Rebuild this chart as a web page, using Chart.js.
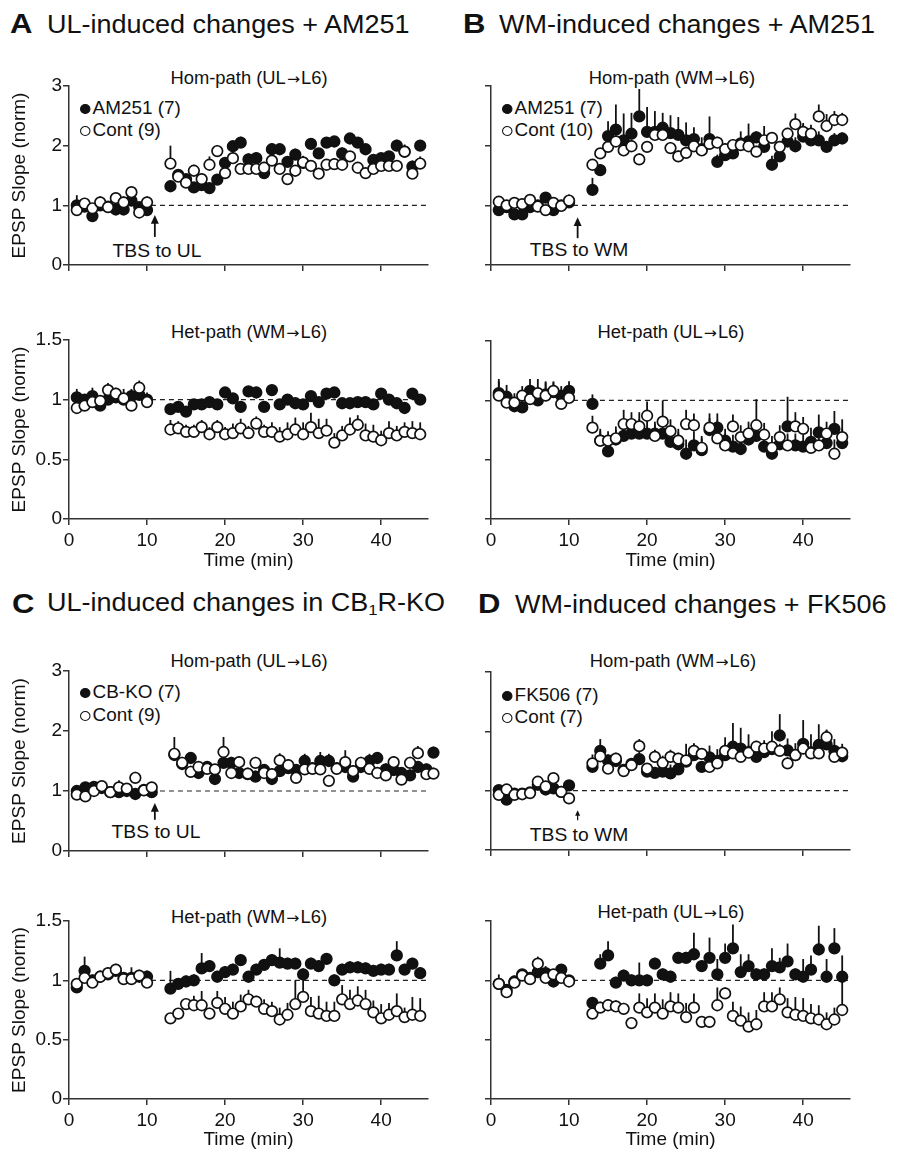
<!DOCTYPE html>
<html>
<head>
<meta charset="utf-8">
<script src="https://cdn.jsdelivr.net/npm/chart.js@4.4.1/dist/chart.umd.min.js"></script>
<style>
    body { margin: 0; background: #fff; width: 902px; height: 1151px; position: relative; overflow: hidden;
           font-family: 'Liberation Sans', Arial, sans-serif; color: #111; }
    canvas { position: absolute; }
    .t { position: absolute; white-space: nowrap; line-height: 1; }
    .ttl { font-size: 25px; transform: translateY(-50%) scaleX(1.08); transform-origin: left center; }
    .ltr { font-size: 27px; font-weight: bold; transform: translateY(-50%) scaleX(1.15); transform-origin: left center; }
    .sub { font-size: 17.5px; transform: translate(-50%, -50%) scaleX(1.05); }
    .arr { font-family: 'DejaVu Sans', sans-serif; font-size: 0.85em; margin: 0 1px; }
    .leg { font-size: 18px; transform: translateY(-50%) scaleX(1.05); transform-origin: left center; }
    .tbs { font-size: 18px; transform: translate(-50%, -50%) scaleX(1.07); }
    .dot { display: inline-block; width: 10px; height: 10px; border-radius: 50%; box-sizing: border-box;
           border: 1.7px solid #111; margin-right: 2px; vertical-align: 0px; }
    .dot.f { background: #111; }
    sub { font-size: 0.62em; vertical-align: -0.25em; }
</style>
</head>
<body>

<!-- panel titles -->
<div class="t ltr" style="left:10px;top:24px">A</div>
<div class="t ttl" style="left:47px;top:24px">UL-induced changes + AM251</div>
<div class="t ltr" style="left:463px;top:24px">B</div>
<div class="t ttl" style="left:499px;top:24px">WM-induced changes + AM251</div>
<div class="t ltr" style="left:12px;top:604px">C</div>
<div class="t ttl" style="left:47px;top:604px">UL-induced changes in CB<sub>1</sub>R-KO</div>
<div class="t ltr" style="left:478px;top:604px">D</div>
<div class="t ttl" style="left:515px;top:604px">WM-induced changes + FK506</div>

<!-- sub plot titles -->
<div class="t sub" style="left:249px;top:79px">Hom-path (UL<span class="arr">→</span>L6)</div>
<div class="t sub" style="left:249px;top:333px">Het-path (WM<span class="arr">→</span>L6)</div>
<div class="t sub" style="left:672px;top:79px">Hom-path (WM<span class="arr">→</span>L6)</div>
<div class="t sub" style="left:671px;top:333px">Het-path (UL<span class="arr">→</span>L6)</div>
<div class="t sub" style="left:249px;top:662px">Hom-path (UL<span class="arr">→</span>L6)</div>
<div class="t sub" style="left:249px;top:918px">Het-path (WM<span class="arr">→</span>L6)</div>
<div class="t sub" style="left:673px;top:662px">Hom-path (WM<span class="arr">→</span>L6)</div>
<div class="t sub" style="left:671px;top:913px">Het-path (UL<span class="arr">→</span>L6)</div>

<!-- legends -->
<div class="t leg" style="left:80px;top:108px"><span class="dot f"></span>AM251 (7)</div>
<div class="t leg" style="left:80px;top:130px"><span class="dot"></span>Cont (9)</div>
<div class="t leg" style="left:502px;top:108px"><span class="dot f"></span>AM251 (7)</div>
<div class="t leg" style="left:502px;top:130px"><span class="dot"></span>Cont (10)</div>
<div class="t leg" style="left:80px;top:692px"><span class="dot f"></span>CB-KO (7)</div>
<div class="t leg" style="left:80px;top:715px"><span class="dot"></span>Cont (9)</div>
<div class="t leg" style="left:502px;top:695px"><span class="dot f"></span>FK506 (7)</div>
<div class="t leg" style="left:502px;top:717px"><span class="dot"></span>Cont (7)</div>

<!-- stimulation labels -->
<div class="t tbs" style="left:157px;top:251px">TBS to UL</div>
<div class="t tbs" style="left:579px;top:250px">TBS to WM</div>
<div class="t tbs" style="left:156px;top:832px">TBS to UL</div>
<div class="t tbs" style="left:579px;top:835px">TBS to WM</div>

<canvas id="aTop" width="450" height="240" style="left:0;top:50px"></canvas>
<canvas id="aBot" width="450" height="285" style="left:0;top:290px"></canvas>
<canvas id="bTop" width="452" height="240" style="left:450px;top:50px"></canvas>
<canvas id="bBot" width="452" height="285" style="left:450px;top:290px"></canvas>
<canvas id="cTop" width="450" height="240" style="left:0;top:630px"></canvas>
<canvas id="cBot" width="450" height="281" style="left:0;top:870px"></canvas>
<canvas id="dTop" width="452" height="240" style="left:450px;top:630px"></canvas>
<canvas id="dBot" width="452" height="281" style="left:450px;top:870px"></canvas>

<script>
// ================= DATA =================
// time (min): 10 baseline samples, TBS, then 13..45
const times = [1, 2, 3, 4, 5, 6, 7, 8, 9, 10,
    13, 14, 15, 16, 17, 18, 19, 20, 21, 22, 23, 24, 25, 26, 27, 28, 29, 30, 31, 32,
    33, 34, 35, 36, 37, 38, 39, 40, 41, 42, 43, 44, 45];
// panel C hom-path is drawn slightly stretched in the figure
const cTopTimes = [1, 2.1, 3.2, 4.2, 5.3, 6.4, 7.4, 8.5, 9.6, 10.6,
    13.5, 14.5, 15.6, 16.6, 17.7, 18.7, 19.8, 20.8, 21.8, 22.9, 23.9, 25.0, 26.0, 27.0, 28.1, 29.1,
    30.2, 31.2, 32.2, 33.3, 34.3, 35.4, 36.4, 37.4, 38.5, 39.5, 40.6, 41.6, 42.6, 43.7, 44.7, 45.8, 46.7];

const homTicks = [0, 1, 2, 3];
const hetTicks = [0, 0.5, 1, 1.5];
const timeTicks = [0, 10, 20, 30, 40];

// A: UL-induced + AM251
const aHomDrug = [1.0, 0.98, 0.82, 1.0, 0.98, 0.93, 0.93, 1.08, 0.97, 0.92,
    1.32, 1.51, 1.44, 1.30, 1.34, 1.29, 1.43, 1.71, 1.99, 2.05, 1.77, 1.79, 1.54, 1.94, 1.94, 1.73,
    1.85, 1.71, 2.03, 1.87, 2.05, 2.07, 1.87, 2.12, 2.05, 1.94, 1.76, 1.79, 1.82, 2.0, 1.9, 1.65, 2.0];
const aHomDrugErr = [0.17, 0.06, 0.06, 0.06, 0.06, 0.08, 0.08, 0.12, 0.08, 0.08,
    0.1, 0.08, 0.08, 0.08, 0.1, 0.08, 0.08, 0.08, 0.08, 0.1, 0.1, 0.1, 0.08, 0.1, 0.08, 0.08,
    0.1, 0.12, 0.08, 0.08, 0.08, 0.08, 0.1, 0.06, 0.08, 0.08, 0.08, 0.08, 0.08, 0.1, 0.1, 0.1, 0.06];
const aHomCont = [0.92, 1.03, 0.95, 1.05, 0.97, 1.12, 1.05, 1.22, 0.88, 1.05,
    1.70, 1.48, 1.38, 1.58, 1.44, 1.68, 1.91, 1.54, 1.79, 1.61, 1.61, 1.61, 1.63, 1.75, 1.61, 1.44,
    1.58, 1.72, 1.66, 1.53, 1.68, 1.69, 1.68, 1.82, 1.63, 1.54, 1.61, 1.66, 1.66, 1.66, 1.9, 1.53, 1.70];
const aHomContErr = [0.06, 0.06, 0.08, 0.1, 0.06, 0.08, 0.1, 0.08, 0.1, 0.1,
    0.3, 0.12, 0.08, 0.1, 0.1, 0.14, 0.1, 0.1, 0.1, 0.08, 0.08, 0.08, 0.1, 0.08, 0.08, 0.08,
    0.08, 0.1, 0.08, 0.08, 0.08, 0.1, 0.08, 0.08, 0.08, 0.08, 0.08, 0.08, 0.08, 0.08, 0.12, 0.08, 0.12];
const aHetDrug = [1.02, 1.0, 1.03, 0.95, 1.0, 1.02, 1.0, 1.03, 1.04, 1.0,
    0.92, 0.94, 0.90, 0.96, 0.96, 0.98, 0.96, 1.06, 1.01, 0.94, 1.07, 1.06, 0.94, 1.08, 0.96, 1.0,
    0.97, 0.96, 1.03, 0.98, 1.05, 1.06, 0.97, 0.97, 0.98, 0.98, 0.96, 1.05, 1.0, 0.97, 0.93, 1.05, 1.0];
const aHetDrugErr = [0.07, 0.04, 0.07, 0.05, 0.08, 0.07, 0.05, 0.06, 0.05, 0.04,
    0.03, 0.03, 0.03, 0.03, 0.03, 0.03, 0.03, 0.03, 0.03, 0.03, 0.03, 0.03, 0.03, 0.03, 0.03, 0.03,
    0.03, 0.03, 0.03, 0.03, 0.03, 0.03, 0.03, 0.03, 0.03, 0.03, 0.03, 0.03, 0.03, 0.03, 0.03, 0.03, 0.03];
const aHetCont = [0.93, 0.95, 0.98, 0.99, 1.08, 1.05, 1.01, 0.95, 1.1, 0.98,
    0.75, 0.76, 0.73, 0.73, 0.77, 0.71, 0.77, 0.71, 0.72, 0.76, 0.72, 0.80, 0.73, 0.73, 0.69, 0.71,
    0.75, 0.71, 0.77, 0.72, 0.74, 0.64, 0.70, 0.75, 0.79, 0.70, 0.69, 0.66, 0.72, 0.70, 0.73, 0.72, 0.71];
const aHetContErr = [0.04, 0.04, 0.05, 0.04, 0.06, 0.05, 0.08, 0.08, 0.06, 0.08,
    0.08, 0.06, 0.06, 0.06, 0.06, 0.06, 0.06, 0.06, 0.08, 0.08, 0.06, 0.06, 0.06, 0.08, 0.08, 0.1,
    0.1, 0.1, 0.12, 0.12, 0.1, 0.08, 0.08, 0.1, 0.08, 0.1, 0.1, 0.08, 0.1, 0.08, 0.08, 0.1, 0.1];

// B: WM-induced + AM251
const bHomDrug = [0.92, 0.97, 0.85, 0.85, 0.97, 1.0, 1.13, 0.92, 1.0, 1.05,
    1.26, 1.59, 2.16, 2.27, 2.09, 2.2, 2.49, 2.23, 2.23, 2.3, 2.21, 2.18, 2.09, 2.11, 1.94, 2.11,
    1.73, 1.84, 1.87, 2.04, 2.07, 2.14, 1.98, 1.68, 1.82, 2.07, 1.99, 2.15, 2.09, 2.09, 1.98, 2.09, 2.12];
const bHomDrugErr = [0.05, 0.05, 0.05, 0.05, 0.05, 0.06, 0.08, 0.05, 0.05, 0.06,
    0.2, 0.1, 0.25, 0.42, 0.45, 0.35, 0.46, 0.42, 0.35, 0.25, 0.3, 0.3, 0.3, 0.2, 0.2, 0.38,
    0.12, 0.1, 0.12, 0.2, 0.3, 0.1, 0.35, 0.15, 0.1, 0.1, 0.15, 0.2, 0.15, 0.15, 0.1, 0.12, 0.1];
const bHomCont = [1.06, 1.0, 1.04, 1.02, 1.09, 0.98, 0.92, 1.04, 0.99, 1.08,
    1.68, 1.87, 1.98, 2.07, 1.92, 1.99, 1.77, 1.98, 2.18, 2.18, 1.96, 1.82, 1.88, 1.99, 1.92, 2.03,
    2.05, 1.94, 2.01, 2.01, 1.99, 1.9, 2.09, 2.13, 1.98, 2.2, 2.36, 2.23, 2.2, 2.49, 2.33, 2.43, 2.43];
const bHomContErr = [0.05, 0.04, 0.05, 0.04, 0.04, 0.04, 0.05, 0.04, 0.04, 0.1,
    0.06, 0.06, 0.08, 0.1, 0.1, 0.1, 0.1, 0.1, 0.1, 0.1, 0.1, 0.1, 0.1, 0.1, 0.1, 0.1,
    0.1, 0.1, 0.1, 0.1, 0.1, 0.1, 0.1, 0.1, 0.1, 0.1, 0.18, 0.15, 0.15, 0.2, 0.2, 0.15, 0.12];
const bHetDrug = [1.06, 1.03, 0.95, 0.94, 1.08, 1.0, 1.05, 1.07, 1.04, 1.08,
    0.97, 0.66, 0.57, 0.67, 0.70, 0.72, 0.72, 0.72, 0.72, 0.72, 0.65, 0.63, 0.55, 0.62, 0.58, 0.75,
    0.77, 0.66, 0.61, 0.59, 0.67, 0.70, 0.61, 0.55, 0.63, 0.78, 0.62, 0.61, 0.65, 0.73, 0.64, 0.76, 0.64];
const bHetDrugErr = [0.12, 0.1, 0.08, 0.06, 0.1, 0.1, 0.1, 0.08, 0.08, 0.08,
    0.08, 0.08, 0.08, 0.08, 0.1, 0.1, 0.12, 0.12, 0.1, 0.1, 0.1, 0.1, 0.12, 0.12, 0.1, 0.1,
    0.12, 0.1, 0.1, 0.1, 0.1, 0.1, 0.1, 0.1, 0.1, 0.25, 0.1, 0.1, 0.12, 0.15, 0.12, 0.15, 0.12];
const bHetCont = [1.04, 0.98, 0.98, 1.04, 1.01, 1.06, 1.04, 1.08, 0.97, 1.02,
    0.77, 0.66, 0.66, 0.68, 0.80, 0.80, 0.78, 0.87, 0.70, 0.82, 0.74, 0.66, 0.80, 0.79, 0.60, 0.77,
    0.68, 0.62, 0.78, 0.69, 0.72, 0.79, 0.71, 0.60, 0.69, 0.62, 0.78, 0.76, 0.60, 0.62, 0.72, 0.55, 0.69];
const bHetContErr = [0.12, 0.1, 0.08, 0.08, 0.1, 0.12, 0.12, 0.08, 0.08, 0.06,
    0.1, 0.1, 0.08, 0.1, 0.12, 0.1, 0.12, 0.12, 0.1, 0.18, 0.1, 0.1, 0.12, 0.1, 0.1, 0.12,
    0.15, 0.1, 0.1, 0.1, 0.1, 0.22, 0.1, 0.1, 0.1, 0.1, 0.12, 0.1, 0.1, 0.12, 0.1, 0.12, 0.15];

// C: UL-induced in CB1R-KO
const cHomDrug = [1.0, 1.06, 1.07, 1.05, 0.98, 0.98, 1.0, 0.95, 1.02, 0.98,
    1.60, 1.45, 1.55, 1.30, 1.40, 1.20, 1.47, 1.47, 1.30, 1.28, 1.24, 1.35, 1.20, 1.33, 1.38, 1.35,
    1.50, 1.38, 1.50, 1.50, 1.38, 1.40, 1.24, 1.40, 1.50, 1.55, 1.36, 1.35, 1.30, 1.26, 1.40, 1.36, 1.64];
const cHomDrugErr = [0.06, 0.06, 0.06, 0.06, 0.06, 0.06, 0.06, 0.06, 0.06, 0.05,
    0.1, 0.1, 0.1, 0.1, 0.1, 0.1, 0.1, 0.1, 0.1, 0.1, 0.1, 0.1, 0.1, 0.1, 0.1, 0.1,
    0.12, 0.1, 0.15, 0.12, 0.1, 0.1, 0.1, 0.1, 0.12, 0.1, 0.1, 0.1, 0.1, 0.1, 0.1, 0.1, 0.1];
const cHomCont = [0.94, 0.91, 1.0, 1.08, 0.98, 1.06, 1.04, 1.22, 1.01, 1.06,
    1.62, 1.47, 1.32, 1.40, 1.37, 1.36, 1.65, 1.30, 1.48, 1.29, 1.47, 1.30, 1.28, 1.51, 1.43, 1.22,
    1.36, 1.37, 1.36, 1.17, 1.37, 1.48, 1.33, 1.47, 1.37, 1.30, 1.26, 1.48, 1.19, 1.47, 1.63, 1.28, 1.29];
const cHomContErr = [0.05, 0.05, 0.05, 0.05, 0.05, 0.12, 0.05, 0.1, 0.05, 0.05,
    0.28, 0.1, 0.1, 0.1, 0.1, 0.08, 0.25, 0.1, 0.1, 0.1, 0.1, 0.1, 0.1, 0.12, 0.1, 0.1,
    0.1, 0.1, 0.1, 0.1, 0.1, 0.2, 0.1, 0.1, 0.2, 0.1, 0.1, 0.1, 0.1, 0.1, 0.12, 0.1, 0.1];
const cHetDrug = [0.94, 1.08, 1.0, 1.03, 1.05, 1.08, 1.02, 1.02, 1.03, 1.03,
    0.93, 0.97, 0.99, 1.0, 1.1, 1.12, 1.03, 1.07, 1.09, 1.17, 1.03, 1.09, 1.13, 1.17, 1.15, 1.14,
    1.14, 1.05, 1.14, 1.12, 1.18, 1.0, 1.09, 1.11, 1.11, 1.10, 1.08, 1.09, 1.09, 1.21, 1.09, 1.14, 1.06];
const cHetDrugErr = [0.05, 0.12, 0.05, 0.05, 0.05, 0.05, 0.05, 0.05, 0.05, 0.05,
    0.15, 0.05, 0.05, 0.05, 0.13, 0.05, 0.05, 0.05, 0.05, 0.05, 0.05, 0.05, 0.05, 0.05, 0.12, 0.05,
    0.05, 0.05, 0.05, 0.05, 0.05, 0.05, 0.05, 0.05, 0.05, 0.05, 0.05, 0.05, 0.05, 0.12, 0.05, 0.05, 0.05];
const cHetCont = [0.97, 1.02, 0.98, 1.03, 1.06, 1.09, 1.01, 1.01, 1.04, 0.98,
    0.68, 0.72, 0.80, 0.79, 0.79, 0.72, 0.81, 0.76, 0.72, 0.78, 0.84, 0.82, 0.76, 0.74, 0.67, 0.71,
    0.80, 0.86, 0.74, 0.72, 0.70, 0.70, 0.84, 0.80, 0.83, 0.80, 0.73, 0.68, 0.71, 0.74, 0.69, 0.71, 0.70];
const cHetContErr = [0.04, 0.04, 0.04, 0.05, 0.05, 0.05, 0.05, 0.1, 0.05, 0.1,
    0.04, 0.04, 0.05, 0.08, 0.12, 0.05, 0.1, 0.1, 0.1, 0.1, 0.08, 0.05, 0.08, 0.08, 0.1, 0.1,
    0.2, 0.22, 0.12, 0.15, 0.12, 0.12, 0.12, 0.12, 0.12, 0.12, 0.1, 0.12, 0.1, 0.15, 0.08, 0.15, 0.15];

// D: WM-induced + FK506
const dHomDrug = [1.01, 0.85, 0.95, 0.95, 0.97, 1.1, 1.02, 1.04, 0.98, 1.09,
    1.40, 1.67, 1.51, 1.50, 1.35, 1.45, 1.53, 1.32, 1.30, 1.32, 1.29, 1.36, 1.49, 1.60, 1.40, 1.56,
    1.50, 1.60, 1.74, 1.71, 1.65, 1.57, 1.65, 1.70, 1.93, 1.68, 1.60, 1.79, 1.65, 1.77, 1.78, 1.67, 1.58];
const dHomDrugErr = [0.05, 0.05, 0.05, 0.05, 0.05, 0.05, 0.05, 0.05, 0.05, 0.05,
    0.1, 0.2, 0.1, 0.1, 0.1, 0.1, 0.15, 0.1, 0.1, 0.1, 0.15, 0.12, 0.3, 0.2, 0.1, 0.2,
    0.2, 0.3, 0.4, 0.35, 0.3, 0.2, 0.2, 0.3, 0.36, 0.2, 0.2, 0.4, 0.3, 0.35, 0.25, 0.2, 0.1];
const dHomCont = [0.93, 1.02, 0.93, 0.94, 0.96, 1.15, 1.07, 1.21, 0.98, 0.87,
    1.46, 1.58, 1.37, 1.54, 1.33, 1.43, 1.75, 1.37, 1.57, 1.47, 1.57, 1.54, 1.51, 1.67, 1.62, 1.40,
    1.46, 1.67, 1.63, 1.57, 1.64, 1.74, 1.71, 1.74, 1.67, 1.46, 1.60, 1.71, 1.63, 1.63, 1.90, 1.57, 1.64];
const dHomContErr = [0.04, 0.04, 0.04, 0.04, 0.04, 0.08, 0.04, 0.04, 0.04, 0.04,
    0.15, 0.1, 0.08, 0.1, 0.08, 0.12, 0.12, 0.08, 0.12, 0.12, 0.12, 0.1, 0.1, 0.12, 0.08, 0.08,
    0.1, 0.12, 0.1, 0.1, 0.12, 0.1, 0.1, 0.1, 0.12, 0.1, 0.1, 0.12, 0.12, 0.15, 0.12, 0.12, 0.15];
const dHetDrug = [0.97, 0.92, 0.99, 1.05, 1.02, 1.07, 1.06, 0.99, 1.09, 1.0,
    0.81, 1.14, 1.21, 0.98, 1.04, 1.0, 1.0, 1.0, 1.14, 1.05, 1.03, 1.19, 1.19, 1.22, 1.12, 1.19,
    1.05, 1.19, 1.27, 1.07, 1.12, 1.05, 1.05, 1.12, 1.11, 1.16, 1.05, 1.03, 1.09, 1.26, 1.03, 1.27, 1.03];
const dHetDrugErr = [0.04, 0.04, 0.04, 0.04, 0.04, 0.04, 0.04, 0.04, 0.04, 0.04,
    0.05, 0.08, 0.12, 0.05, 0.05, 0.05, 0.15, 0.05, 0.05, 0.05, 0.05, 0.05, 0.05, 0.18, 0.05, 0.17,
    0.13, 0.12, 0.2, 0.15, 0.1, 0.05, 0.05, 0.15, 0.08, 0.15, 0.05, 0.15, 0.12, 0.2, 0.15, 0.17, 0.18];
const dHetCont = [0.97, 0.90, 0.98, 1.04, 1.01, 1.14, 1.02, 1.05, 1.02, 0.99,
    0.72, 0.77, 0.79, 0.78, 0.76, 0.64, 0.77, 0.73, 0.77, 0.72, 0.78, 0.77, 0.69, 0.77, 0.65, 0.65,
    0.79, 0.89, 0.70, 0.66, 0.61, 0.63, 0.78, 0.78, 0.84, 0.73, 0.71, 0.70, 0.68, 0.67, 0.63, 0.67, 0.75];
const dHetContErr = [0.08, 0.04, 0.06, 0.04, 0.06, 0.06, 0.1, 0.04, 0.04, 0.04,
    0.05, 0.05, 0.05, 0.05, 0.05, 0.05, 0.12, 0.12, 0.12, 0.12, 0.12, 0.12, 0.12, 0.12, 0.05, 0.05,
    0.15, 0.05, 0.12, 0.12, 0.12, 0.12, 0.12, 0.12, 0.1, 0.12, 0.15, 0.15, 0.12, 0.12, 0.1, 0.1, 0.3];

// TBS arrows (x in min, y from base to tip in norm units)
const arrowA = { x: 11, from: 0.47, to: 0.84, head: 8 };
const arrowB = { x: 11.1, from: 0.45, to: 0.80, head: 8 };
const arrowC = { x: 11, from: 0.52, to: 0.80, head: 8 };
const arrowD = { x: 11.1, from: 0.50, to: 0.67, head: 5 };

// ================= DRAWING =================
Chart.defaults.font.family = "'Liberation Sans', Arial, sans-serif";
Chart.defaults.color = '#111';

const AXIS = '#333';

// dashed line at 1, error bars (upper SEM) and the TBS arrow
const extras = {
    id: 'extras',
    beforeDatasetsDraw(chart) {
        const { ctx, scales: { x, y } } = chart;
        const o = chart.options.plugins.extras;
        ctx.save();

        ctx.strokeStyle = '#222';
        ctx.lineWidth = 1.2;
        ctx.setLineDash([5, 4]);
        ctx.beginPath();
        ctx.moveTo(x.getPixelForValue(10.5), y.getPixelForValue(1));
        ctx.lineTo(x.getPixelForValue(46), y.getPixelForValue(1));
        ctx.stroke();
        ctx.setLineDash([]);

        ctx.strokeStyle = '#111';
        ctx.lineWidth = 1.8;
        chart.data.datasets.forEach(ds => {
            ds.data.forEach((p, i) => {
                const px = x.getPixelForValue(p.x);
                ctx.beginPath();
                ctx.moveTo(px, y.getPixelForValue(p.y));
                ctx.lineTo(px, y.getPixelForValue(p.y + ds.err[i]));
                ctx.stroke();
            });
        });

        if (o.arrow) {
            const a = o.arrow;
            const ax = x.getPixelForValue(a.x);
            const y0 = y.getPixelForValue(a.from);
            const y1 = y.getPixelForValue(a.to);
            ctx.lineWidth = a.head > 6 ? 1.8 : 1.2;
            ctx.beginPath();
            ctx.moveTo(ax, y0);
            ctx.lineTo(ax, y1 + a.head);
            ctx.stroke();
            ctx.fillStyle = '#111';
            ctx.beginPath();
            ctx.moveTo(ax, y1);
            ctx.lineTo(ax - a.head / 2, y1 + a.head * 1.1);
            ctx.lineTo(ax + a.head / 2, y1 + a.head * 1.1);
            ctx.closePath();
            ctx.fill();
        }
        ctx.restore();
    }
};

function makePanel(id, p) {
    const el = document.getElementById(id);
    const canvasTop = parseFloat(el.style.top);
    const canvasLeft = parseFloat(el.style.left) || 0;

    const pts = (vals, xs) => vals.map((v, i) => ({ x: xs[i], y: v }));
    const xs = p.times || times;
    const yTicks = p.het ? hetTicks : homTicks;

    new Chart(el, {
        type: 'scatter',
        data: {
            datasets: [
                {
                    data: pts(p.cont, xs), err: p.contErr, order: 0, clip: false,
                    pointRadius: 5.3, pointBackgroundColor: '#fff', pointBorderColor: '#111', pointBorderWidth: 1.7
                },
                {
                    data: pts(p.drug, xs), err: p.drugErr, order: 1, clip: false,
                    pointRadius: 5.3, pointBackgroundColor: '#111', pointBorderColor: '#111', pointBorderWidth: 1.7
                }
            ]
        },
        options: {
            responsive: false,
            animation: false,
            events: [],
            layout: {
                padding: { left: 0, top: p.plotTop - canvasTop, right: canvasLeft + el.width - p.plotRight, bottom: 0 }
            },
            plugins: {
                legend: { display: false },
                tooltip: { enabled: false },
                extras: { arrow: p.arrow }
            },
            scales: {
                x: {
                    type: 'linear', min: 0, max: 46,
                    border: { color: AXIS, width: 1.5 },
                    grid: { drawOnChartArea: false, tickLength: 6, color: AXIS, lineWidth: 1.5 },
                    afterBuildTicks: s => { s.ticks = timeTicks.map(v => ({ value: v })); },
                    ticks: { display: p.showX, padding: 4, font: { size: 19 }, maxRotation: 0, autoSkip: false,
                             callback: v => String(v) },
                    title: { display: p.showX, text: 'Time (min)', font: { size: 19 }, padding: { top: 0, bottom: p.xTitlePad || 0 } },
                    afterFit: s => { s.height = canvasTop + el.height - p.plotBottom; }
                },
                y: {
                    type: 'linear', min: 0, max: yTicks[yTicks.length - 1],
                    border: { color: AXIS, width: 1.5 },
                    grid: { drawOnChartArea: false, tickLength: 6, color: AXIS, lineWidth: 1.5 },
                    afterBuildTicks: s => { s.ticks = yTicks.map(v => ({ value: v })); },
                    ticks: { display: p.showY, padding: 1, font: { size: 19 }, callback: v => String(v) },
                    title: { display: p.showY, text: 'EPSP Slope (norm)', font: { size: 19 }, padding: { top: 8, bottom: 0 } },
                    afterFit: s => { s.width = p.plotLeft - canvasLeft; }
                }
            }
        },
        plugins: [extras]
    });
}

makePanel('aTop', { drug: aHomDrug, drugErr: aHomDrugErr, cont: aHomCont, contErr: aHomContErr,
    plotLeft: 69, plotRight: 428, plotTop: 86, plotBottom: 265, showX: false, showY: true, arrow: arrowA });
makePanel('aBot', { drug: aHetDrug, drugErr: aHetDrugErr, cont: aHetCont, contErr: aHetContErr, het: true,
    plotLeft: 69, plotRight: 428, plotTop: 340, plotBottom: 519, showX: true, showY: true, xTitlePad: 3 });
makePanel('bTop', { drug: bHomDrug, drugErr: bHomDrugErr, cont: bHomCont, contErr: bHomContErr,
    plotLeft: 491, plotRight: 850, plotTop: 86, plotBottom: 265, showX: false, showY: false, arrow: arrowB });
makePanel('bBot', { drug: bHetDrug, drugErr: bHetDrugErr, cont: bHetCont, contErr: bHetContErr, het: true,
    plotLeft: 491, plotRight: 850, plotTop: 341, plotBottom: 519, showX: true, showY: false, xTitlePad: 3 });
makePanel('cTop', { drug: cHomDrug, drugErr: cHomDrugErr, cont: cHomCont, contErr: cHomContErr, times: cTopTimes,
    plotLeft: 69, plotRight: 428, plotTop: 671, plotBottom: 851, showX: false, showY: true, arrow: arrowC });
makePanel('cBot', { drug: cHetDrug, drugErr: cHetDrugErr, cont: cHetCont, contErr: cHetContErr, het: true,
    plotLeft: 69, plotRight: 428, plotTop: 921, plotBottom: 1099, showX: true, showY: true });
makePanel('dTop', { drug: dHomDrug, drugErr: dHomDrugErr, cont: dHomCont, contErr: dHomContErr,
    plotLeft: 491, plotRight: 850, plotTop: 672, plotBottom: 850, showX: false, showY: false, arrow: arrowD });
makePanel('dBot', { drug: dHetDrug, drugErr: dHetDrugErr, cont: dHetCont, contErr: dHetContErr, het: true,
    plotLeft: 491, plotRight: 850, plotTop: 921, plotBottom: 1099, showX: true, showY: false });
</script>
</body>
</html>
